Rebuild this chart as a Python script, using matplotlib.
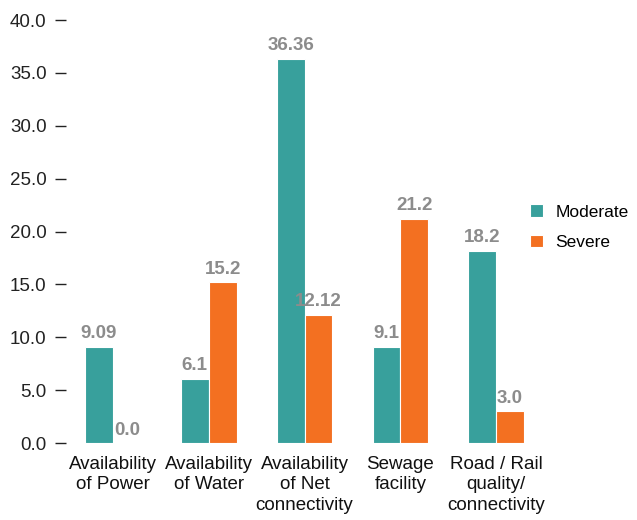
import matplotlib
matplotlib.use('Agg')
import matplotlib.pyplot as plt
import numpy as np

# data
categories = ["Availability\nof Power", "Availability\nof Water", "Availability\nof Net\nconnectivity",
              "Sewage\nfacility", "Road / Rail\nquality/\nconnectivity"]
moderate = [9.09, 6.1, 36.36, 9.1, 18.2]
severe = [0.0, 15.2, 12.12, 21.2, 3.0]
moderate_labels = ["9.09", "6.1", "36.36", "9.1", "18.2"]
severe_labels = ["0.0", "15.2", "12.12", "21.2", "3.0"]
yticks = [0, 5, 10, 15, 20, 25, 30, 35, 40]

plt.rcParams['font.family'] = ['Liberation Sans', 'DejaVu Sans']

teal = '#38a09c'
orange = '#f37021'
grey = '#8c8c8c'

fig = plt.figure(figsize=(6.37, 5.2), dpi=100)
ax = fig.add_axes([0.1036, 0.148, 0.752, 0.8135])

x = np.arange(len(categories))
w = 0.29
b1 = ax.bar(x - w/2, moderate, w, color=teal, edgecolor='white', linewidth=0.8, label='Moderate')
b2 = ax.bar(x + w/2, severe, w, color=orange, edgecolor='white', linewidth=0.8, label='Severe')

for bars, labels in [(b1, moderate_labels), (b2, severe_labels)]:
    for rect, lab in zip(bars, labels):
        ax.text(rect.get_x() + rect.get_width()/2, rect.get_height() + 0.8, lab,
                ha='center', va='baseline', color=grey, fontsize=13.5, fontweight='bold')

ax.set_xlim(-0.49, 4.51)
ax.set_ylim(0, 40)
ax.set_yticks(yticks)
ax.set_yticklabels(["%.1f" % t for t in yticks])
ax.set_xticks(x)
ax.set_xticklabels(categories, va='top', linespacing=1.3)

for s in ax.spines.values():
    s.set_visible(False)
ax.tick_params(axis='y', length=8, width=1, pad=6, colors='#222222', labelsize=13.5)
ax.tick_params(axis='x', length=0, pad=9, colors='#111111', labelsize=13.5)

fig.legend(handles=[b1, b2], loc='upper left', bbox_to_anchor=(0.832, 0.607), frameon=False,
           borderpad=0, borderaxespad=0, fontsize=12.5, handlelength=0.75, handleheight=0.75,
           handletextpad=0.7, labelspacing=0.85)

plt.savefig('out.png', dpi=100)
